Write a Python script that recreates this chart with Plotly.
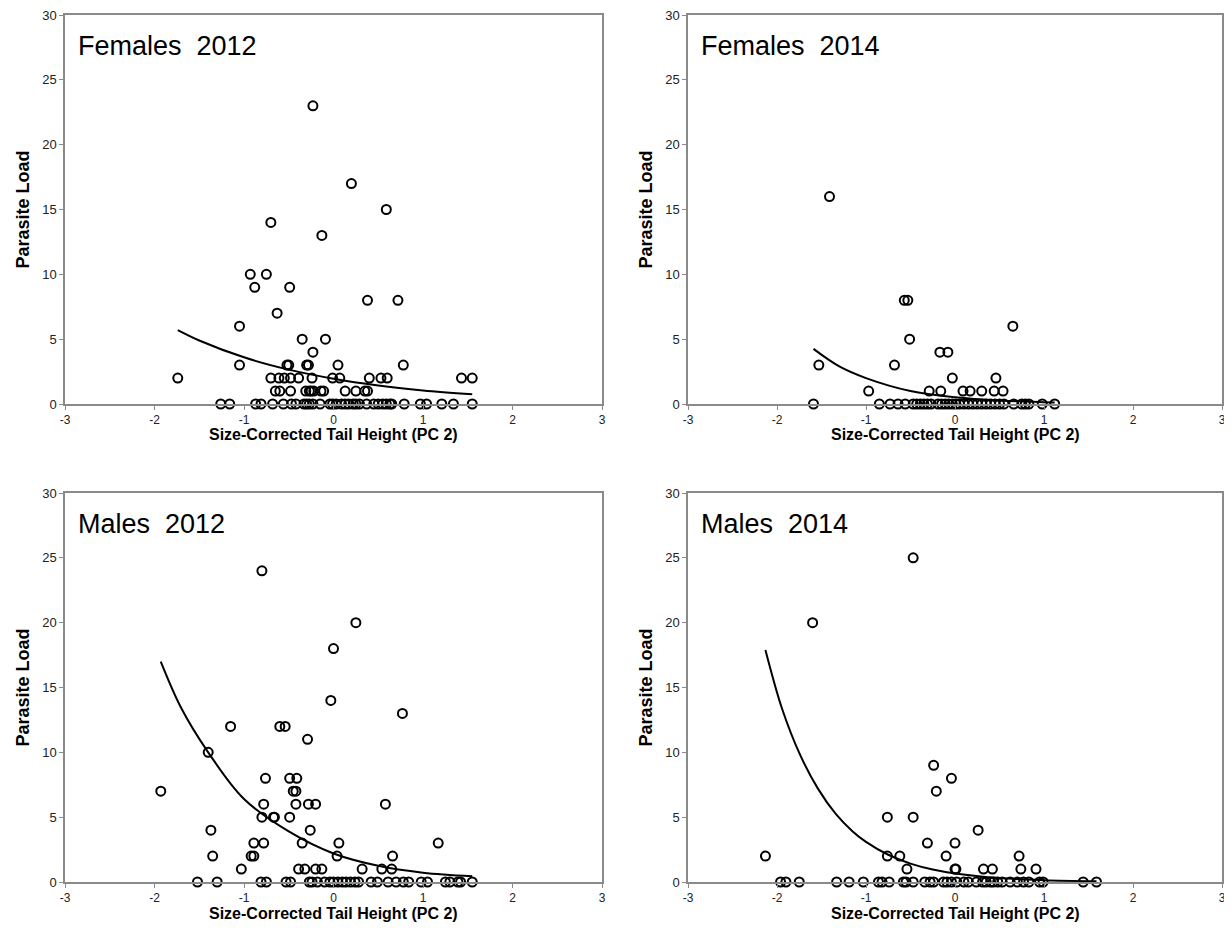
import plotly.graph_objects as go

# ---------------- data ----------------
panel_titles = ["Females\u00a0\u00a02012", "Females\u00a0\u00a02014", "Males\u00a0\u00a02012", "Males\u00a0\u00a02014"]
x_title = "Size-Corrected Tail Height (PC 2)"
y_title = "Parasite Load"
x_ticks = [-3, -2, -1, 0, 1, 2, 3]
y_ticks = [0, 5, 10, 15, 20, 25, 30]

# Females 2012
f12_x = [-0.23, 0.20, 0.59, -0.70, -0.13,
         -0.93, -0.75, -0.88, -0.49, 0.38, 0.72, -0.63, -1.05, -0.35, -0.09, -0.23,
         -1.05, -0.52, -0.50, -0.30, -0.28, 0.05, 0.78,
         -1.74, -0.70, -0.61, -0.55, -0.48, -0.39, -0.24, -0.01, 0.07, 0.40, 0.53, 0.60, 1.43, 1.55,
         -0.65, -0.60, -0.48, -0.31, -0.27, -0.25, -0.22, -0.14, -0.11, 0.13, 0.25, 0.35, 0.38,
         -1.26, -1.16, -0.87, -0.81, -0.68, -0.56, -0.47, -0.42, -0.33, -0.30, -0.27, -0.23, -0.15,
         -0.04, -0.01, 0.03, 0.09, 0.13, 0.17, 0.22, 0.25, 0.29, 0.37, 0.45, 0.50, 0.55, 0.59, 0.63,
         0.65, 0.79, 0.97, 1.04, 1.21, 1.34, 1.55]
f12_y = [23, 17, 15, 14, 13,
         10, 10, 9, 9, 8, 8, 7, 6, 5, 5, 4,
         3, 3, 3, 3, 3, 3, 3,
         2, 2, 2, 2, 2, 2, 2, 2, 2, 2, 2, 2, 2, 2,
         1, 1, 1, 1, 1, 1, 1, 1, 1, 1, 1, 1, 1,
         0, 0, 0, 0, 0, 0, 0, 0, 0, 0, 0, 0, 0,
         0, 0, 0, 0, 0, 0, 0, 0, 0, 0, 0, 0, 0, 0, 0,
         0, 0, 0, 0, 0, 0, 0]
f12_fit_x = [-1.74, -1.5, -1.0, -0.5, 0.0, 0.5, 1.0, 1.55]
f12_fit_y = [5.7, 4.9, 3.6, 2.65, 1.95, 1.43, 1.05, 0.75]

# Females 2014
f14_x = [-1.41, -0.57, -0.53, 0.65, -0.51, -0.17, -0.08, -1.53, -0.68, -0.03, 0.46,
         -0.97, -0.29, -0.16, 0.09, 0.17, 0.30, 0.44, 0.54,
         -1.59, -0.85, -0.73, -0.64, -0.56, -0.47, -0.43, -0.39, -0.35, -0.31, -0.27, -0.19,
         -0.15, -0.11, -0.07, -0.03, 0.01, 0.05, 0.10, 0.15, 0.20, 0.25, 0.30, 0.35, 0.40,
         0.45, 0.50, 0.55, 0.66, 0.75, 0.79, 0.83, 0.98, 1.12]
f14_y = [16, 8, 8, 6, 5, 4, 4, 3, 3, 2, 2,
         1, 1, 1, 1, 1, 1, 1, 1,
         0, 0, 0, 0, 0, 0, 0, 0, 0, 0, 0, 0,
         0, 0, 0, 0, 0, 0, 0, 0, 0, 0, 0, 0, 0,
         0, 0, 0, 0, 0, 0, 0, 0, 0]
f14_fit_x = [-1.59, -1.3, -1.0, -0.5, 0.0, 0.5, 1.12]
f14_fit_y = [4.25, 2.9, 2.0, 1.0, 0.52, 0.27, 0.12]

# Males 2012
m12_x = [-0.80, 0.25, 0.00, -0.03, 0.77, -1.15, -0.60, -0.54, -0.29, -1.40,
         -0.76, -0.49, -0.41, -1.93, -0.45, -0.42,
         -0.78, -0.42, -0.28, -0.20, 0.58, -0.80, -0.67, -0.66, -0.49, -1.37, -0.26,
         -0.89, -0.78, -0.35, 0.06, 1.17, -1.35, -0.92, -0.89, 0.04, 0.66,
         -1.03, -0.39, -0.32, -0.20, -0.13, 0.32, 0.54, 0.65,
         -1.52, -1.30, -0.81, -0.75, -0.53, -0.48, -0.27, -0.24, -0.18, -0.10, -0.04, 0.00,
         0.05, 0.10, 0.14, 0.19, 0.24, 0.28, 0.42, 0.49, 0.61, 0.70, 0.78, 0.84, 0.98, 1.05,
         1.25, 1.30, 1.39, 1.42, 1.55]
m12_y = [24, 20, 18, 14, 13, 12, 12, 12, 11, 10,
         8, 8, 8, 7, 7, 7,
         6, 6, 6, 6, 6, 5, 5, 5, 5, 4, 4,
         3, 3, 3, 3, 3, 2, 2, 2, 2, 2,
         1, 1, 1, 1, 1, 1, 1, 1,
         0, 0, 0, 0, 0, 0, 0, 0, 0, 0, 0, 0,
         0, 0, 0, 0, 0, 0, 0, 0, 0, 0, 0, 0, 0, 0,
         0, 0, 0, 0, 0]
m12_fit_x = [-1.93, -1.7, -1.4, -1.0, -0.5, 0.0, 0.5, 1.0, 1.55]
m12_fit_y = [17.0, 13.4, 10.0, 6.4, 3.9, 2.2, 1.25, 0.72, 0.45]

# Males 2014
m14_x = [-0.47, -1.60, -0.24, -0.04, -0.21, -0.76, -0.47, 0.26, -0.31, 0.00,
         -2.13, -0.76, -0.62, -0.10, 0.72,
         -0.54, 0.00, 0.01, 0.32, 0.42, 0.74, 0.91,
         -1.96, -1.90, -1.75, -1.33, -1.19, -1.03, -0.86, -0.82, -0.74, -0.58, -0.55, -0.47,
         -0.34, -0.28, -0.24, -0.13, -0.09, -0.04, 0.02, 0.10, 0.15, 0.24, 0.31, 0.35, 0.40,
         0.43, 0.48, 0.53, 0.62, 0.70, 0.77, 0.83, 0.95, 0.99, 1.44, 1.59]
m14_y = [25, 20, 9, 8, 7, 5, 5, 4, 3, 3,
         2, 2, 2, 2, 2,
         1, 1, 1, 1, 1, 1, 1,
         0, 0, 0, 0, 0, 0, 0, 0, 0, 0, 0, 0,
         0, 0, 0, 0, 0, 0, 0, 0, 0, 0, 0, 0, 0,
         0, 0, 0, 0, 0, 0, 0, 0, 0, 0, 0]
m14_fit_x = [-2.13, -1.94, -1.74, -1.54, -1.34, -1.15, -1.0, -0.75, -0.5, -0.25, 0.0, 0.5, 1.0, 1.59]
m14_fit_y = [17.9, 13.3, 9.8, 7.2, 5.25, 3.9, 3.1, 2.1, 1.42, 0.96, 0.66, 0.30, 0.14, 0.055]

# ---------------- figure ----------------
# the page body has an 8px margin, so the figure is drawn 8px smaller and
# all target pixel positions are shifted by -8
OFF = 8
W, H = 1232 - OFF, 933 - OFF
col_px = [(65 - OFF, 602 - OFF), (688 - OFF, 1222 - OFF)]
row_px = [(15 - OFF, 404 - OFF), (493 - OFF, 882 - OFF)]
col_dom = [[a / W, b / W] for a, b in col_px]
row_dom = [[1 - b / H, 1 - a / H] for a, b in row_px]

panels = [
    (f12_x, f12_y, f12_fit_x, f12_fit_y, 0, 0),
    (f14_x, f14_y, f14_fit_x, f14_fit_y, 0, 1),
    (m12_x, m12_y, m12_fit_x, m12_fit_y, 1, 0),
    (m14_x, m14_y, m14_fit_x, m14_fit_y, 1, 1),
]

FONT = "Liberation Sans, Arial, sans-serif"
AXIS_COL = "#8a8a8a"

fig = go.Figure()
annotations = []
layout = dict(
    width=W, height=H, autosize=False,
    margin=dict(l=0, r=0, t=0, b=0, autoexpand=False),
    paper_bgcolor="white", plot_bgcolor="white",
    showlegend=False,
    font=dict(family=FONT, color="black"),
)

for i, (px, py, fx, fy, r, c) in enumerate(panels):
    n = i + 1
    xa = "x" if n == 1 else f"x{n}"
    ya = "y" if n == 1 else f"y{n}"
    fig.add_trace(go.Scatter(
        x=fx, y=fy, xaxis=xa, yaxis=ya, mode="lines",
        line=dict(color="black", width=2, shape="spline", smoothing=1.0),
        hoverinfo="skip", cliponaxis=False,
    ))
    fig.add_trace(go.Scatter(
        x=px, y=py, xaxis=xa, yaxis=ya, mode="markers",
        marker=dict(symbol="circle-open", size=9, color="black", line=dict(width=2, color="black")),
        cliponaxis=False,
    ))
    xkey = "xaxis" if n == 1 else f"xaxis{n}"
    ykey = "yaxis" if n == 1 else f"yaxis{n}"
    layout[xkey] = dict(
        domain=col_dom[c], anchor=ya, range=[-3, 3], automargin=False,
        tickmode="array", tickvals=x_ticks, ticktext=[str(v) for v in x_ticks],
        showgrid=False, zeroline=False, ticklabeloverflow="allow",
        showline=True, linecolor=AXIS_COL, linewidth=1.5, mirror=True,
        ticks="outside", ticklen=4, tickcolor=AXIS_COL, tickwidth=1,
        tickfont=dict(family=FONT, size=12, color="#222"),
    )
    layout[ykey] = dict(
        domain=row_dom[r], anchor=xa, range=[0, 30], automargin=False,
        tickmode="array", tickvals=y_ticks, ticktext=[str(v) for v in y_ticks],
        showgrid=False, zeroline=False, ticklabeloverflow="allow",
        showline=True, linecolor=AXIS_COL, linewidth=1.5, mirror=True,
        ticks="outside", ticklen=4, tickcolor=AXIS_COL, tickwidth=1,
        tickfont=dict(family=FONT, size=13, color="#222"),
    )
    x0, x1 = col_px[c]
    y0, y1 = row_px[r]
    # panel label
    annotations.append(dict(
        text=panel_titles[i], xref=f"{xa} domain", yref=f"{ya} domain",
        x=0.02, y=(y1 - (y0 + 31)) / (y1 - y0), xanchor="left", yanchor="middle", showarrow=False,
        font=dict(family=FONT, size=27, color="black"),
    ))
    # x-axis title
    annotations.append(dict(
        text=f"<b>{x_title}</b>", xref="paper", yref="paper",
        x=((x0 + x1) / 2) / W, y=1 - (y1 + 31) / H, xanchor="center", yanchor="middle",
        showarrow=False, font=dict(family=FONT, size=16, color="black"),
    ))
    # y-axis title
    annotations.append(dict(
        text=f"<b>{y_title}</b>", xref="paper", yref="paper", textangle=-90,
        x=(x0 - 43) / W, y=1 - ((y0 + y1) / 2) / H, xanchor="center", yanchor="middle",
        showarrow=False, font=dict(family=FONT, size=18, color="black"),
    ))

layout["annotations"] = annotations
fig.update_layout(**layout)
fig.write_html("out.html")
